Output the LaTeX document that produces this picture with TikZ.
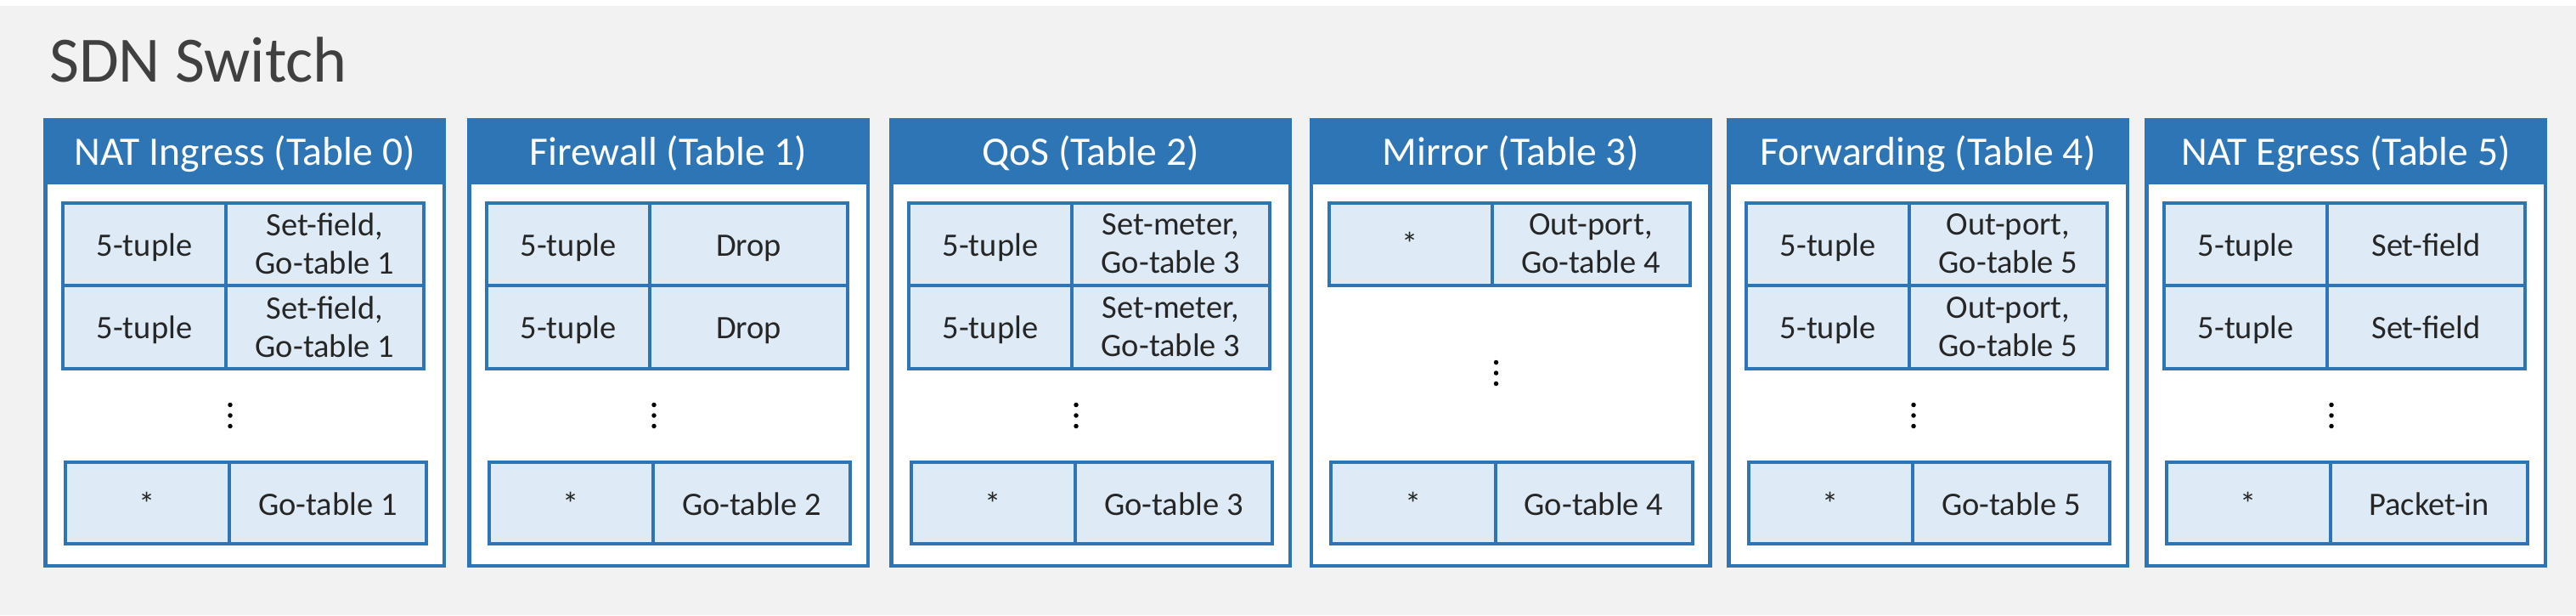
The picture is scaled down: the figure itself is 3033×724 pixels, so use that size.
\documentclass[tikz,border=0pt]{standalone}
\usepackage{fontspec}
\setmainfont{Carlito}
\definecolor{sdnblue}{HTML}{2E75B6}
\definecolor{sdnlight}{HTML}{DEEBF7}
\definecolor{sdnbg}{HTML}{F2F2F2}
\definecolor{sdntitle}{HTML}{404040}
\definecolor{sdntext}{HTML}{262626}
\tikzset{
  tblbox/.style={draw=sdnblue, fill=white, line width=4.5pt, minimum width=469.5pt, minimum height=524.5pt, inner sep=0pt},
  hdrfill/.style={fill=sdnblue, minimum width=474pt, minimum height=78pt, inner sep=0pt},
  hdrtext/.style={anchor=base, text=white, font=\fontsize{47.6}{57}\selectfont, inner sep=0pt},
  cellbox/.style={draw=sdnblue, fill=sdnlight, line width=4pt, inner sep=0pt},
  celltext/.style={anchor=base, text=sdntext, font=\fontsize{38.5}{45}\selectfont, inner sep=0pt},
  cellmulti/.style={anchor=center, align=center, text=sdntext, font=\fontsize{38.5}{45}\selectfont, inner sep=0pt},
  vdot/.style={circle, fill=black, minimum size=5.5pt, inner sep=0pt},
  titletext/.style={anchor=base west, inner sep=0pt, text=sdntitle, font=\fontsize{76}{90}\selectfont},
}
\newcommand{\SDNframe}[3]{%
  \node[tblbox] (#2) at ({#1+237},403.5) {};
  \node[hdrfill] (#2h) at ({#1+237},178) {};
  \node[hdrtext] (#2t) at ({#1+237},194) {#3};
}
\newcommand{\SDNfirst}[2]{%
  \node[cellbox, minimum width=192pt, minimum height=97pt] (#2a1) at ({#1+119},287) {};
  \node[cellbox, minimum width=233pt, minimum height=97pt] (#2b1) at ({#1+331.5},287) {};
}
\newcommand{\SDNsecond}[2]{%
  \node[cellbox, minimum width=192pt, minimum height=98.5pt] (#2a2) at ({#1+119},384.75) {};
  \node[cellbox, minimum width=233pt, minimum height=98.5pt] (#2b2) at ({#1+331.5},384.75) {};
}
\newcommand{\SDNlast}[2]{%
  \node[cellbox, minimum width=193.5pt, minimum height=96.5pt] (#2a9) at ({#1+122.25},591.75) {};
  \node[cellbox, minimum width=232pt, minimum height=96.5pt] (#2b9) at ({#1+335},591.75) {};
}
\newcommand{\SDNdots}[3]{%
  \node[vdot] (#2d1) at ({#1+220},{#3-12.5}) {};
  \node[vdot] (#2d2) at ({#1+220},#3) {};
  \node[vdot] (#2d3) at ({#1+220},{#3+12.5}) {};
}
\begin{document}
\begin{tikzpicture}[x=1pt, y=-1pt]
\useasboundingbox (0,0) rectangle (3033,724);
\fill[white] (0,0) rectangle (3033,724);
\fill[sdnbg] (0,7) rectangle (3033,724);
\node[titletext] (title) at (58,96) {SDN Switch};

% Table 0
\SDNframe{51}{ta}{NAT Ingress (Table 0)}
\SDNfirst{51}{ta}\SDNsecond{51}{ta}\SDNlast{51}{ta}
\SDNdots{51}{ta}{489}
\node[celltext] (taa1x) at (taa1 |- 0,301) {5-tuple};
\node[cellmulti] (tab1x) at (tab1) {Set-field,\\Go-table 1};
\node[celltext] (taa2x) at (taa2 |- 0,398) {5-tuple};
\node[cellmulti] (tab2x) at (tab2) {Set-field,\\Go-table 1};
\node[celltext] (taa9x) at (taa9 |- 0,606) {*};
\node[celltext] (tab9x) at (tab9 |- 0,606) {Go-table 1};

% Table 1
\SDNframe{550}{tb}{Firewall (Table 1)}
\SDNfirst{550}{tb}\SDNsecond{550}{tb}\SDNlast{550}{tb}
\SDNdots{550}{tb}{489}
\node[celltext] (tba1x) at (tba1 |- 0,301) {5-tuple};
\node[celltext] (tbb1x) at (tbb1 |- 0,301) {Drop};
\node[celltext] (tba2x) at (tba2 |- 0,398) {5-tuple};
\node[celltext] (tbb2x) at (tbb2 |- 0,398) {Drop};
\node[celltext] (tba9x) at (tba9 |- 0,606) {*};
\node[celltext] (tbb9x) at (tbb9 |- 0,606) {Go-table 2};

% Table 2
\SDNframe{1047}{tc}{QoS (Table 2)}
\SDNfirst{1047}{tc}\SDNsecond{1047}{tc}\SDNlast{1047}{tc}
\SDNdots{1047}{tc}{489}
\node[celltext] (tca1x) at (tca1 |- 0,301) {5-tuple};
\node[cellmulti] (tcb1x) at (tcb1) {Set-meter,\\Go-table 3};
\node[celltext] (tca2x) at (tca2 |- 0,398) {5-tuple};
\node[cellmulti] (tcb2x) at (tcb2) {Set-meter,\\Go-table 3};
\node[celltext] (tca9x) at (tca9 |- 0,606) {*};
\node[celltext] (tcb9x) at (tcb9 |- 0,606) {Go-table 3};

% Table 3
\SDNframe{1541.5}{td}{Mirror (Table 3)}
\SDNfirst{1541.5}{td}\SDNlast{1541.5}{td}
\SDNdots{1541.5}{td}{439}
\node[celltext] (tda1x) at (tda1 |- 0,300) {*};
\node[cellmulti] (tdb1x) at (tdb1) {Out-port,\\Go-table 4};
\node[celltext] (tda9x) at (tda9 |- 0,606) {*};
\node[celltext] (tdb9x) at (tdb9 |- 0,606) {Go-table 4};

% Table 4
\SDNframe{2033}{te}{Forwarding (Table 4)}
\SDNfirst{2033}{te}\SDNsecond{2033}{te}\SDNlast{2033}{te}
\SDNdots{2033}{te}{489}
\node[celltext] (tea1x) at (tea1 |- 0,301) {5-tuple};
\node[cellmulti] (teb1x) at (teb1) {Out-port,\\Go-table 5};
\node[celltext] (tea2x) at (tea2 |- 0,398) {5-tuple};
\node[cellmulti] (teb2x) at (teb2) {Out-port,\\Go-table 5};
\node[celltext] (tea9x) at (tea9 |- 0,606) {*};
\node[celltext] (teb9x) at (teb9 |- 0,606) {Go-table 5};

% Table 5
\SDNframe{2525}{tf}{NAT Egress (Table 5)}
\SDNfirst{2525}{tf}\SDNsecond{2525}{tf}\SDNlast{2525}{tf}
\SDNdots{2525}{tf}{489}
\node[celltext] (tfa1x) at (tfa1 |- 0,301) {5-tuple};
\node[celltext] (tfb1x) at (tfb1 |- 0,301) {Set-field};
\node[celltext] (tfa2x) at (tfa2 |- 0,398) {5-tuple};
\node[celltext] (tfb2x) at (tfb2 |- 0,398) {Set-field};
\node[celltext] (tfa9x) at (tfa9 |- 0,606) {*};
\node[celltext] (tfb9x) at (tfb9 |- 0,606) {Packet-in};
\end{tikzpicture}
\end{document}
